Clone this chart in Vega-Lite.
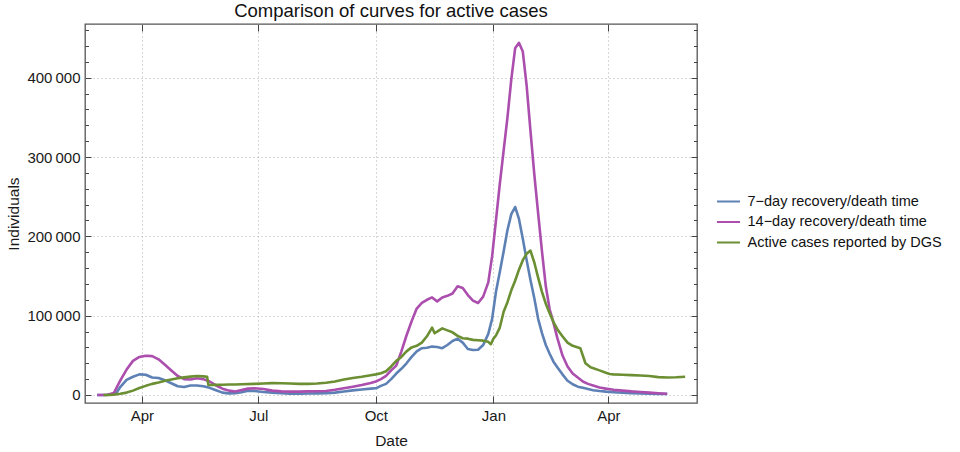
{
  "$schema": "https://vega.github.io/schema/vega-lite/v6.json",
  "width": 612,
  "height": 379,
  "autosize": {"type": "none"},
  "padding": {"left": 85, "top": 24, "right": 263, "bottom": 49},
  "background": "white",
  "title": {
    "text": "Comparison of curves for active cases",
    "fontSize": 18.5,
    "fontWeight": "normal",
    "font": "Liberation Sans",
    "color": "#111111",
    "anchor": "middle",
    "baseline": "alphabetic",
    "offset": 7,
    "dy": 19
  },
  "datasets": {
    "blue": [
      {"d": "2020-02-26", "v": 0}, {"d": "2020-03-01", "v": 0}, {"d": "2020-03-05", "v": 200},
      {"d": "2020-03-10", "v": 1000}, {"d": "2020-03-12", "v": 2500}, {"d": "2020-03-15", "v": 10000},
      {"d": "2020-03-20", "v": 19000}, {"d": "2020-03-25", "v": 23000}, {"d": "2020-03-30", "v": 26000},
      {"d": "2020-04-04", "v": 25500}, {"d": "2020-04-09", "v": 22000}, {"d": "2020-04-14", "v": 21500},
      {"d": "2020-04-19", "v": 18500}, {"d": "2020-04-24", "v": 14800}, {"d": "2020-04-29", "v": 11000},
      {"d": "2020-05-04", "v": 10000}, {"d": "2020-05-09", "v": 12000}, {"d": "2020-05-14", "v": 12000},
      {"d": "2020-05-19", "v": 11000}, {"d": "2020-05-24", "v": 9000}, {"d": "2020-05-29", "v": 6000},
      {"d": "2020-06-03", "v": 3000}, {"d": "2020-06-08", "v": 2000}, {"d": "2020-06-13", "v": 2100},
      {"d": "2020-06-18", "v": 3500}, {"d": "2020-06-23", "v": 5500}, {"d": "2020-06-28", "v": 5000},
      {"d": "2020-07-05", "v": 3800}, {"d": "2020-07-12", "v": 3000}, {"d": "2020-07-19", "v": 2200},
      {"d": "2020-07-26", "v": 1500}, {"d": "2020-08-02", "v": 1600}, {"d": "2020-08-09", "v": 1800},
      {"d": "2020-08-16", "v": 2000}, {"d": "2020-08-23", "v": 2100}, {"d": "2020-08-30", "v": 3000},
      {"d": "2020-09-06", "v": 4500}, {"d": "2020-09-13", "v": 5800}, {"d": "2020-09-20", "v": 7000},
      {"d": "2020-09-27", "v": 8000}, {"d": "2020-10-01", "v": 8400}, {"d": "2020-10-05", "v": 11500},
      {"d": "2020-10-09", "v": 14000}, {"d": "2020-10-13", "v": 20000}, {"d": "2020-10-17", "v": 27000},
      {"d": "2020-10-21", "v": 33000}, {"d": "2020-10-25", "v": 40000}, {"d": "2020-10-29", "v": 48000},
      {"d": "2020-11-02", "v": 55000}, {"d": "2020-11-06", "v": 59000}, {"d": "2020-11-10", "v": 59500},
      {"d": "2020-11-14", "v": 61000}, {"d": "2020-11-18", "v": 60500}, {"d": "2020-11-22", "v": 59000},
      {"d": "2020-11-26", "v": 63000}, {"d": "2020-11-30", "v": 68000}, {"d": "2020-12-04", "v": 71000},
      {"d": "2020-12-08", "v": 66000}, {"d": "2020-12-12", "v": 58000}, {"d": "2020-12-16", "v": 56700},
      {"d": "2020-12-20", "v": 57000}, {"d": "2020-12-24", "v": 63000}, {"d": "2020-12-28", "v": 77000},
      {"d": "2020-12-31", "v": 96000}, {"d": "2021-01-03", "v": 130000}, {"d": "2021-01-06", "v": 155000},
      {"d": "2021-01-09", "v": 181000}, {"d": "2021-01-12", "v": 208000}, {"d": "2021-01-15", "v": 228000},
      {"d": "2021-01-18", "v": 237000}, {"d": "2021-01-21", "v": 222000}, {"d": "2021-01-24", "v": 197000},
      {"d": "2021-01-27", "v": 170000}, {"d": "2021-01-30", "v": 145000}, {"d": "2021-02-02", "v": 122000},
      {"d": "2021-02-05", "v": 96000}, {"d": "2021-02-08", "v": 78000}, {"d": "2021-02-11", "v": 63000},
      {"d": "2021-02-14", "v": 52000}, {"d": "2021-02-17", "v": 42000}, {"d": "2021-02-20", "v": 35000},
      {"d": "2021-02-24", "v": 26000}, {"d": "2021-02-28", "v": 18000}, {"d": "2021-03-04", "v": 13500},
      {"d": "2021-03-08", "v": 10500}, {"d": "2021-03-12", "v": 9000}, {"d": "2021-03-16", "v": 7500},
      {"d": "2021-03-20", "v": 6000}, {"d": "2021-03-25", "v": 5000}, {"d": "2021-03-30", "v": 4200},
      {"d": "2021-04-05", "v": 3500}, {"d": "2021-04-12", "v": 2800}, {"d": "2021-04-19", "v": 2200},
      {"d": "2021-04-26", "v": 1800}, {"d": "2021-05-03", "v": 1500}, {"d": "2021-05-10", "v": 1300},
      {"d": "2021-05-17", "v": 1200}
    ],
    "purple": [
      {"d": "2020-02-26", "v": 0}, {"d": "2020-03-01", "v": 0}, {"d": "2020-03-05", "v": 300},
      {"d": "2020-03-10", "v": 2500}, {"d": "2020-03-15", "v": 18000}, {"d": "2020-03-20", "v": 32000},
      {"d": "2020-03-25", "v": 43000}, {"d": "2020-03-30", "v": 48000}, {"d": "2020-04-04", "v": 49500},
      {"d": "2020-04-09", "v": 49000}, {"d": "2020-04-14", "v": 45000}, {"d": "2020-04-19", "v": 38000},
      {"d": "2020-04-24", "v": 31000}, {"d": "2020-04-29", "v": 24000}, {"d": "2020-05-04", "v": 20000},
      {"d": "2020-05-09", "v": 19500}, {"d": "2020-05-14", "v": 21000}, {"d": "2020-05-19", "v": 20000},
      {"d": "2020-05-24", "v": 17000}, {"d": "2020-05-29", "v": 12000}, {"d": "2020-06-03", "v": 8000},
      {"d": "2020-06-08", "v": 5500}, {"d": "2020-06-13", "v": 4500}, {"d": "2020-06-18", "v": 6300},
      {"d": "2020-06-23", "v": 8000}, {"d": "2020-06-28", "v": 8400}, {"d": "2020-07-05", "v": 7500},
      {"d": "2020-07-12", "v": 5500}, {"d": "2020-07-19", "v": 4500}, {"d": "2020-07-26", "v": 4200},
      {"d": "2020-08-02", "v": 4200}, {"d": "2020-08-09", "v": 4500}, {"d": "2020-08-16", "v": 4800},
      {"d": "2020-08-23", "v": 5000}, {"d": "2020-08-30", "v": 6500}, {"d": "2020-09-06", "v": 8500},
      {"d": "2020-09-13", "v": 10500}, {"d": "2020-09-20", "v": 12500}, {"d": "2020-09-27", "v": 15000},
      {"d": "2020-10-01", "v": 17000}, {"d": "2020-10-05", "v": 20000}, {"d": "2020-10-09", "v": 24000},
      {"d": "2020-10-13", "v": 31000}, {"d": "2020-10-17", "v": 37000}, {"d": "2020-10-21", "v": 55000},
      {"d": "2020-10-25", "v": 75000}, {"d": "2020-10-29", "v": 93000}, {"d": "2020-11-02", "v": 109000},
      {"d": "2020-11-06", "v": 116000}, {"d": "2020-11-10", "v": 120000}, {"d": "2020-11-14", "v": 123000},
      {"d": "2020-11-18", "v": 118000}, {"d": "2020-11-22", "v": 123000}, {"d": "2020-11-26", "v": 125000},
      {"d": "2020-11-30", "v": 128000}, {"d": "2020-12-04", "v": 137000}, {"d": "2020-12-08", "v": 135000},
      {"d": "2020-12-12", "v": 126000}, {"d": "2020-12-16", "v": 119000}, {"d": "2020-12-20", "v": 116000},
      {"d": "2020-12-24", "v": 124000}, {"d": "2020-12-28", "v": 142000}, {"d": "2020-12-31", "v": 175000},
      {"d": "2021-01-03", "v": 220000}, {"d": "2021-01-06", "v": 266000}, {"d": "2021-01-09", "v": 308000},
      {"d": "2021-01-12", "v": 350000}, {"d": "2021-01-15", "v": 398000}, {"d": "2021-01-18", "v": 437000},
      {"d": "2021-01-21", "v": 444000}, {"d": "2021-01-24", "v": 433000}, {"d": "2021-01-27", "v": 390000},
      {"d": "2021-01-30", "v": 333000}, {"d": "2021-02-02", "v": 278000}, {"d": "2021-02-05", "v": 229000},
      {"d": "2021-02-08", "v": 181000}, {"d": "2021-02-11", "v": 137000}, {"d": "2021-02-14", "v": 108000},
      {"d": "2021-02-17", "v": 91000}, {"d": "2021-02-20", "v": 72000}, {"d": "2021-02-24", "v": 50000},
      {"d": "2021-02-28", "v": 36000}, {"d": "2021-03-04", "v": 27000}, {"d": "2021-03-08", "v": 22000},
      {"d": "2021-03-12", "v": 17000}, {"d": "2021-03-16", "v": 14000}, {"d": "2021-03-20", "v": 12000},
      {"d": "2021-03-25", "v": 9500}, {"d": "2021-03-30", "v": 8000}, {"d": "2021-04-05", "v": 6500},
      {"d": "2021-04-12", "v": 5500}, {"d": "2021-04-19", "v": 4500}, {"d": "2021-04-26", "v": 3800},
      {"d": "2021-05-03", "v": 3000}, {"d": "2021-05-10", "v": 2200}, {"d": "2021-05-17", "v": 1500}
    ],
    "green": [
      {"d": "2020-03-02", "v": 0}, {"d": "2020-03-06", "v": 100}, {"d": "2020-03-10", "v": 500},
      {"d": "2020-03-15", "v": 1500}, {"d": "2020-03-20", "v": 3000}, {"d": "2020-03-25", "v": 5500},
      {"d": "2020-03-30", "v": 8800}, {"d": "2020-04-04", "v": 11500}, {"d": "2020-04-09", "v": 14000},
      {"d": "2020-04-14", "v": 15800}, {"d": "2020-04-19", "v": 18000}, {"d": "2020-04-24", "v": 19500},
      {"d": "2020-04-29", "v": 21000}, {"d": "2020-05-04", "v": 22200}, {"d": "2020-05-09", "v": 23200},
      {"d": "2020-05-14", "v": 24000}, {"d": "2020-05-19", "v": 23500}, {"d": "2020-05-22", "v": 23000},
      {"d": "2020-05-23", "v": 12500}, {"d": "2020-05-29", "v": 12800}, {"d": "2020-06-03", "v": 13000},
      {"d": "2020-06-08", "v": 13200}, {"d": "2020-06-13", "v": 13300}, {"d": "2020-06-18", "v": 13500},
      {"d": "2020-06-28", "v": 14000}, {"d": "2020-07-05", "v": 14500}, {"d": "2020-07-12", "v": 15000},
      {"d": "2020-07-19", "v": 14800}, {"d": "2020-07-26", "v": 14400}, {"d": "2020-08-02", "v": 14000},
      {"d": "2020-08-09", "v": 14000}, {"d": "2020-08-16", "v": 14500}, {"d": "2020-08-23", "v": 15500},
      {"d": "2020-08-30", "v": 17000}, {"d": "2020-09-06", "v": 19500}, {"d": "2020-09-13", "v": 21500},
      {"d": "2020-09-20", "v": 23000}, {"d": "2020-09-27", "v": 25000}, {"d": "2020-10-01", "v": 26000},
      {"d": "2020-10-05", "v": 27500}, {"d": "2020-10-09", "v": 30000}, {"d": "2020-10-13", "v": 36000},
      {"d": "2020-10-17", "v": 43000}, {"d": "2020-10-21", "v": 48000}, {"d": "2020-10-25", "v": 55000},
      {"d": "2020-10-29", "v": 60000}, {"d": "2020-11-02", "v": 62000}, {"d": "2020-11-06", "v": 66000},
      {"d": "2020-11-10", "v": 74000}, {"d": "2020-11-14", "v": 85000}, {"d": "2020-11-16", "v": 77800},
      {"d": "2020-11-18", "v": 80000}, {"d": "2020-11-22", "v": 84000}, {"d": "2020-11-26", "v": 81500},
      {"d": "2020-11-30", "v": 79000}, {"d": "2020-12-04", "v": 74500}, {"d": "2020-12-08", "v": 71500},
      {"d": "2020-12-12", "v": 71000}, {"d": "2020-12-16", "v": 69500}, {"d": "2020-12-20", "v": 69000},
      {"d": "2020-12-24", "v": 68500}, {"d": "2020-12-28", "v": 67000}, {"d": "2020-12-30", "v": 64000},
      {"d": "2021-01-01", "v": 71000}, {"d": "2021-01-03", "v": 75000}, {"d": "2021-01-06", "v": 85000},
      {"d": "2021-01-09", "v": 105000}, {"d": "2021-01-12", "v": 117000}, {"d": "2021-01-15", "v": 132000},
      {"d": "2021-01-18", "v": 144000}, {"d": "2021-01-21", "v": 158000}, {"d": "2021-01-24", "v": 170000},
      {"d": "2021-01-27", "v": 178000}, {"d": "2021-01-30", "v": 182000}, {"d": "2021-02-02", "v": 167000},
      {"d": "2021-02-05", "v": 148000}, {"d": "2021-02-08", "v": 130000}, {"d": "2021-02-11", "v": 115000},
      {"d": "2021-02-14", "v": 103000}, {"d": "2021-02-17", "v": 92000}, {"d": "2021-02-20", "v": 83000},
      {"d": "2021-02-24", "v": 74000}, {"d": "2021-02-28", "v": 66000}, {"d": "2021-03-04", "v": 62000},
      {"d": "2021-03-10", "v": 59000}, {"d": "2021-03-14", "v": 40000}, {"d": "2021-03-18", "v": 35000},
      {"d": "2021-03-25", "v": 31000}, {"d": "2021-03-30", "v": 28000}, {"d": "2021-04-02", "v": 26500},
      {"d": "2021-04-05", "v": 26000}, {"d": "2021-04-12", "v": 25500}, {"d": "2021-04-19", "v": 25000},
      {"d": "2021-04-26", "v": 24500}, {"d": "2021-05-03", "v": 24000}, {"d": "2021-05-10", "v": 22500},
      {"d": "2021-05-17", "v": 22000}, {"d": "2021-05-24", "v": 22300}, {"d": "2021-05-31", "v": 23000}
    ],
    "anchor": [{"d": "2020-04-01", "v": 0}]
  },
  "resolve": {"axis": {"x": "independent", "y": "independent"}},
  "layer": [
    {
      "data": {"name": "blue"},
      "mark": {"type": "line", "strokeWidth": 2.6, "strokeJoin": "round"},
      "encoding": {
        "x": {
          "field": "d", "type": "temporal",
          "scale": {"type": "utc", "domain": [{"year": 2020, "month": 2, "date": 16, "hours": 11, "utc": true}, {"year": 2021, "month": 6, "date": 9, "hours": 7, "utc": true}]},
          "axis": {
            "orient": "bottom",
            "values": [
              {"year": 2020, "month": 4, "date": 1, "utc": true},
              {"year": 2020, "month": 7, "date": 1, "utc": true},
              {"year": 2020, "month": 10, "date": 1, "utc": true},
              {"year": 2021, "month": 1, "date": 1, "utc": true},
              {"year": 2021, "month": 4, "date": 1, "utc": true}
            ],
            "labelExpr": "utcFormat(datum.value, '%b')",
            "ticks": false, "domain": false,
            "grid": true, "gridDash": [1, 3], "gridColor": "#b0b0b0", "gridWidth": 1,
            "labelFontSize": 15, "labelPadding": 17, "labelBaseline": "alphabetic",
            "title": "Date", "titleFontSize": 15.5, "titleFontWeight": "normal",
            "titleY": 42, "titleBaseline": "alphabetic"
          }
        },
        "y": {
          "field": "v", "type": "quantitative",
          "scale": {"domain": [-10100, 467700], "nice": false, "zero": false},
          "axis": {
            "orient": "left",
            "values": [0, 100000, 200000, 300000, 400000],
            "labelExpr": "replace(format(datum.value, ','), ',', '\u2009')",
            "ticks": false, "domain": false,
            "grid": true, "gridDash": [1, 3], "gridColor": "#b0b0b0", "gridWidth": 1,
            "labelFontSize": 15, "labelPadding": 5, "labelBaseline": "middle",
            "title": "Individuals", "titleFontSize": 15.5, "titleFontWeight": "normal",
            "titleAngle": -90, "titleX": -67, "titleY": 189.5, "titleAlign": "center", "titleBaseline": "alphabetic"
          }
        },
        "color": {
          "datum": "7\u2212day recovery/death time", "type": "nominal",
          "scale": {
            "domain": ["7\u2212day recovery/death time", "14\u2212day recovery/death time", "Active cases reported by DGS"],
            "range": ["#5e81b5", "#ab4ead", "#6b8f32"]
          },
          "legend": {
            "orient": "none", "legendX": 631, "legendY": 168.5, "title": null,
            "symbolType": "stroke", "symbolSize": 529, "symbolStrokeWidth": 2,
            "labelFontSize": 14.5, "labelFont": "Liberation Sans", "labelColor": "#111111",
            "labelLimit": 400, "labelOffset": 6.5, "clipHeight": 18, "rowPadding": 2.5, "padding": 0
          }
        }
      }
    },
    {
      "data": {"name": "purple"},
      "mark": {"type": "line", "strokeWidth": 2.6, "strokeJoin": "round"},
      "encoding": {
        "x": {"field": "d", "type": "temporal", "axis": null},
        "y": {"field": "v", "type": "quantitative", "axis": null},
        "color": {"datum": "14\u2212day recovery/death time", "type": "nominal"}
      }
    },
    {
      "data": {"name": "green"},
      "mark": {"type": "line", "strokeWidth": 2.6, "strokeJoin": "round"},
      "encoding": {
        "x": {"field": "d", "type": "temporal", "axis": null},
        "y": {"field": "v", "type": "quantitative", "axis": null},
        "color": {"datum": "Active cases reported by DGS", "type": "nominal"}
      }
    },
    {
      "data": {"name": "anchor"},
      "mark": {"type": "point", "opacity": 0},
      "encoding": {
        "x": {
          "field": "d", "type": "temporal",
          "axis": {
            "orient": "bottom",
            "values": [
              {"year": 2020, "month": 4, "date": 1, "utc": true},
              {"year": 2020, "month": 7, "date": 1, "utc": true},
              {"year": 2020, "month": 10, "date": 1, "utc": true},
              {"year": 2021, "month": 1, "date": 1, "utc": true},
              {"year": 2021, "month": 4, "date": 1, "utc": true}
            ],
            "labels": false, "grid": false, "domain": false, "ticks": true,
            "tickSize": -7, "tickColor": "#444444", "tickWidth": 1, "title": null
          }
        },
        "y": {
          "field": "v", "type": "quantitative",
          "axis": {
            "orient": "left",
            "values": [0, 100000, 200000, 300000, 400000],
            "labels": false, "grid": false, "domain": false, "ticks": true,
            "tickSize": -6, "tickColor": "#444444", "tickWidth": 1, "title": null
          }
        }
      }
    },
    {
      "data": {"name": "anchor"},
      "mark": {"type": "point", "opacity": 0},
      "encoding": {
        "x": {
          "field": "d", "type": "temporal",
          "axis": {
            "orient": "top",
            "values": [
              {"year": 2020, "month": 4, "date": 1, "utc": true},
              {"year": 2020, "month": 7, "date": 1, "utc": true},
              {"year": 2020, "month": 10, "date": 1, "utc": true},
              {"year": 2021, "month": 1, "date": 1, "utc": true},
              {"year": 2021, "month": 4, "date": 1, "utc": true}
            ],
            "labels": false, "grid": false, "domain": false, "ticks": true,
            "tickSize": -7, "tickColor": "#444444", "tickWidth": 1, "title": null
          }
        },
        "y": {
          "field": "v", "type": "quantitative",
          "axis": {
            "orient": "right",
            "values": [0, 100000, 200000, 300000, 400000],
            "labels": false, "grid": false, "domain": false, "ticks": true,
            "tickSize": -6, "tickColor": "#444444", "tickWidth": 1, "title": null
          }
        }
      }
    },
    {
      "data": {"name": "anchor"},
      "mark": {"type": "point", "opacity": 0},
      "encoding": {
        "x": {"field": "d", "type": "temporal", "axis": null},
        "y": {
          "field": "v", "type": "quantitative",
          "axis": {
            "orient": "left",
            "values": [20000, 40000, 60000, 80000, 120000, 140000, 160000, 180000, 220000, 240000, 260000, 280000, 320000, 340000, 360000, 380000, 420000, 440000, 460000],
            "labels": false, "grid": false, "domain": false, "ticks": true,
            "tickSize": -3.5, "tickColor": "#444444", "tickWidth": 1, "title": null
          }
        }
      }
    },
    {
      "data": {"name": "anchor"},
      "mark": {"type": "point", "opacity": 0},
      "encoding": {
        "x": {"field": "d", "type": "temporal", "axis": null},
        "y": {
          "field": "v", "type": "quantitative",
          "axis": {
            "orient": "right",
            "values": [20000, 40000, 60000, 80000, 120000, 140000, 160000, 180000, 220000, 240000, 260000, 280000, 320000, 340000, 360000, 380000, 420000, 440000, 460000],
            "labels": false, "grid": false, "domain": false, "ticks": true,
            "tickSize": -3.5, "tickColor": "#444444", "tickWidth": 1, "title": null
          }
        }
      }
    }
  ],
  "config": {
    "font": "Liberation Sans",
    "view": {"stroke": "#555555", "strokeWidth": 1.3},
    "axis": {
      "labelFont": "Liberation Sans", "titleFont": "Liberation Sans",
      "labelColor": "#1a1a1a", "titleColor": "#1a1a1a"
    }
  }
}
